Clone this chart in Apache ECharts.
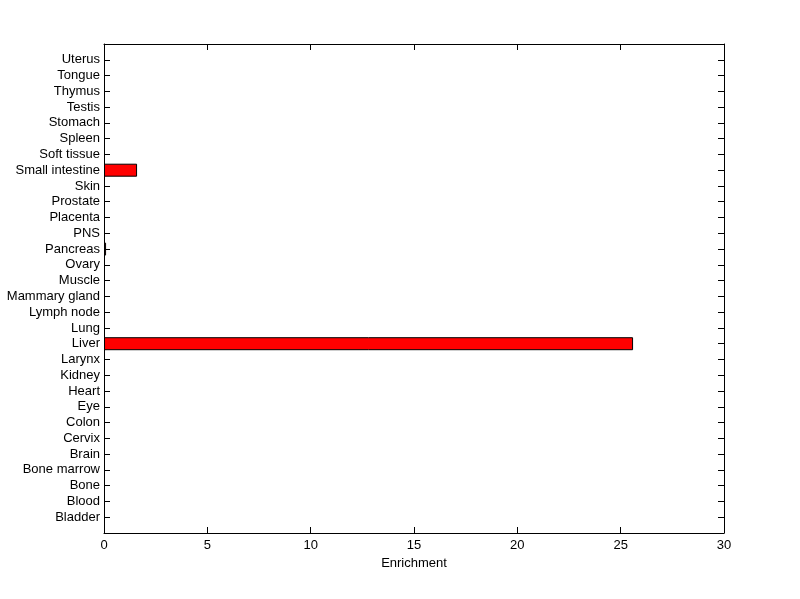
<!DOCTYPE html>
<html>
<head>
<meta charset="utf-8">
<script src="https://cdn.jsdelivr.net/npm/echarts@6/dist/echarts.min.js"></script>
<style>html,body{margin:0;padding:0;background:#fff;}#chart{width:800px;height:599px;}</style>
</head>
<body>
<div id="chart"></div>
<script>
const categories = ['Bladder','Blood','Bone','Bone marrow','Brain','Cervix','Colon','Eye','Heart','Kidney','Larynx','Liver','Lung','Lymph node','Mammary gland','Muscle','Ovary','Pancreas','PNS','Placenta','Prostate','Skin','Small intestine','Soft tissue','Spleen','Stomach','Testis','Thymus','Tongue','Uterus'];
const enrichment = [0,0,0,0,0,0,0,0,0,0,0,25.6,0,0,0,0,0,0.1,0,0,0,0,1.6,0,0,0,0,0,0,0];
const xTicks = [0,5,10,15,20,25,30];

const font = 'Liberation Sans, Arial, sans-serif';
// category slots 0..31; real categories occupy 1..30 (MATLAB-style padding)
const yCats = [''].concat(categories, ['']);
const yData = [null].concat(enrichment.map(v => v > 0 ? v : null), [null]);
const yLabel = (v) => (v >= 1 && v <= categories.length && Number.isInteger(v)) ? categories[v-1] : '';

const tickAxis = {
  type: 'value', min: 0, max: categories.length + 1, interval: 1,
  axisLine: {show: true, onZero: false, lineStyle: {color: '#000', width: 1}},
  axisTick: {show: true, inside: true, length: 6, lineStyle: {color: '#000'}},
  splitLine: {show: false}
};

const chart = echarts.init(document.getElementById('chart'));
chart.setOption({
  backgroundColor: '#ffffff',
  animation: false,
  grid: {left: 104, right: 76, top: 44, bottom: 66, show: false},
  xAxis: [{
    type: 'value', min: xTicks[0], max: xTicks[xTicks.length-1], interval: 5,
    name: 'Enrichment', nameLocation: 'middle', nameGap: 24,
    nameTextStyle: {color: '#000', fontFamily: font, fontSize: 13},
    axisLine: {show: true, onZero: false, lineStyle: {color: '#000', width: 1}},
    axisTick: {show: true, inside: true, length: 6, lineStyle: {color: '#000'}},
    axisLabel: {color: '#000', fontFamily: font, fontSize: 13, margin: 6},
    splitLine: {show: false}
  }, {
    type: 'value', position: 'top', min: xTicks[0], max: xTicks[xTicks.length-1], interval: 5,
    axisLine: {show: true, onZero: false, lineStyle: {color: '#000', width: 1}},
    axisTick: {show: true, inside: true, length: 6, lineStyle: {color: '#000'}},
    axisLabel: {show: false}, splitLine: {show: false}
  }],
  yAxis: [
    {type: 'category', data: yCats, boundaryGap: false, show: false},
    Object.assign({}, tickAxis, {position: 'left',
      axisLabel: {color: '#000', fontFamily: font, fontSize: 13, margin: 4, formatter: yLabel,
        showMinLabel: false, showMaxLabel: false}}),
    Object.assign({}, tickAxis, {position: 'right', axisLabel: {show: false}})
  ],
  series: [{
    type: 'bar', data: yData, xAxisIndex: 0, yAxisIndex: 0,
    barWidth: 13,
    itemStyle: {color: '#ff0000', borderColor: '#000', borderWidth: 1}
  }]
});
</script>
</body>
</html>
